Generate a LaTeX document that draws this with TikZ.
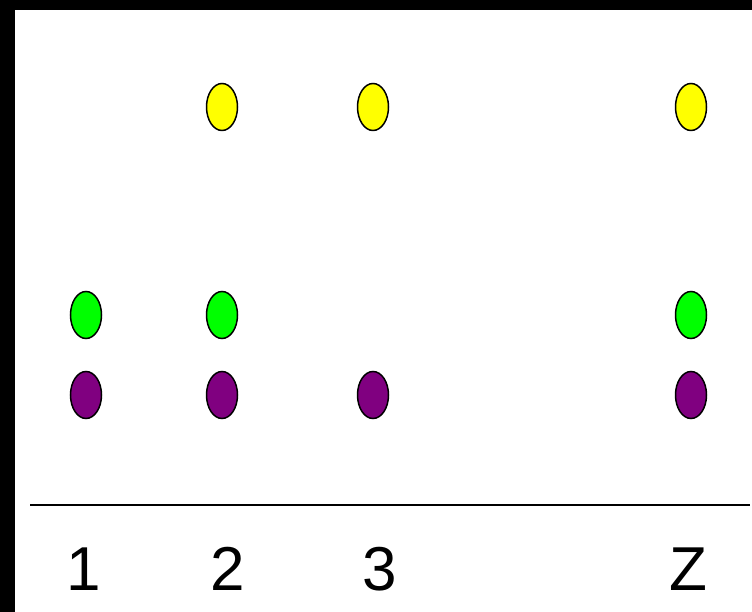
\documentclass[tikz,border=0pt]{standalone}
\usepackage{fontspec}
\setmainfont{Liberation Sans}
\usetikzlibrary{shapes.geometric}
\definecolor{dotyellow}{RGB}{255,255,0}
\definecolor{dotgreen}{RGB}{0,255,0}
\definecolor{dotpurple}{RGB}{128,0,128}
\begin{document}
\begin{tikzpicture}[x=1pt,y=1pt,
  dot/.style={ellipse,draw=black,line width=1.5pt,minimum width=31pt,minimum height=47pt,inner sep=0pt},
  lab/.style={font=\fontsize{62}{62}\selectfont,anchor=base}]
\useasboundingbox (0,0) rectangle (752,612);
\fill[black] (0,0) rectangle (15,612);
\fill[black] (0,602) rectangle (752,612);
% yellow row
\node[dot,fill=dotyellow] (y2) at (222,505) {};
\node[dot,fill=dotyellow] (y3) at (373,505) {};
\node[dot,fill=dotyellow] (yz) at (691,505) {};
% green row
\node[dot,fill=dotgreen] (g1) at (86,297) {};
\node[dot,fill=dotgreen] (g2) at (222,297) {};
\node[dot,fill=dotgreen] (gz) at (691,297) {};
% purple row
\node[dot,fill=dotpurple] (p1) at (86,217) {};
\node[dot,fill=dotpurple] (p2) at (222,217) {};
\node[dot,fill=dotpurple] (p3) at (373,217) {};
\node[dot,fill=dotpurple] (pz) at (691,217) {};
% axis
\coordinate (al) at (30,107);
\coordinate (ar) at (750,107);
\draw[line width=1.5pt] (al) -- (ar);
\node[lab] (l1) at (84,21) {1};
\node[lab] (l2) at (228,21) {2};
\node[lab] (l3) at (380,21) {3};
\node[lab] (lz) at (688,21) {Z};
\end{tikzpicture}
\end{document}
